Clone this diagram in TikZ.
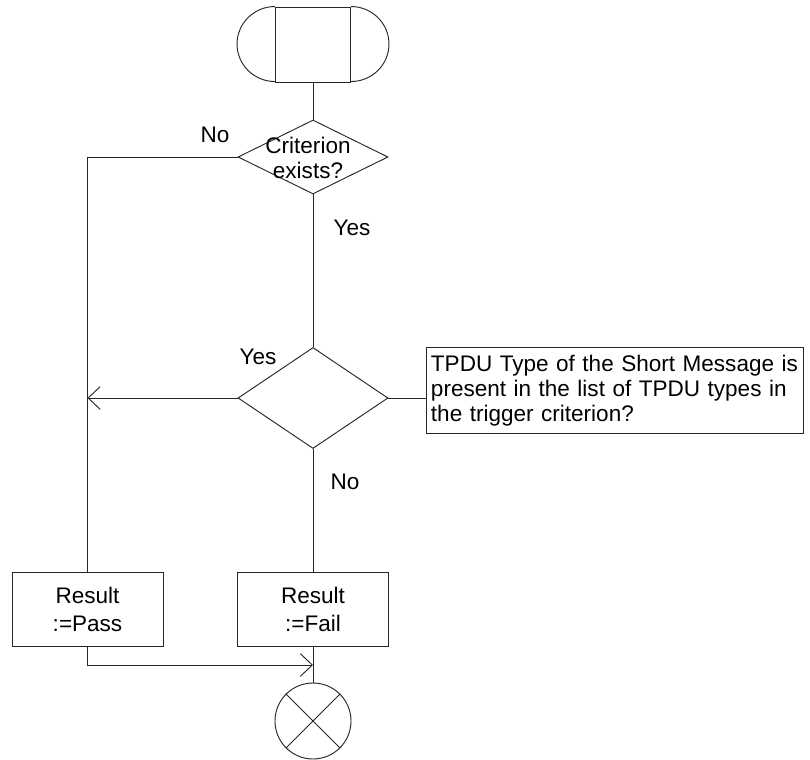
\documentclass[tikz,border=0pt]{standalone}
\usepackage{fontspec}
\setmainfont{Liberation Sans}
\usetikzlibrary{shapes.geometric,arrows.meta}
\begin{document}
\begin{tikzpicture}[x=0.75pt,y=-0.75pt,
  line/.style={draw=black!85,line width=0.7pt},
  tip/.style={-{Straight Barb[length=9pt,width=17pt,line width=0.7pt]}},
  txt/.style={font=\fontsize{16.9}{18.75}\selectfont,inner sep=0pt},
  decision/.style={diamond,line,minimum width=112.5pt,inner sep=0pt},
  taskbox/.style={rectangle,line,minimum width=113.25pt,minimum height=55.5pt,align=center,inner sep=0pt,font=\fontsize{16.9}{21}\selectfont},
]
\useasboundingbox (0,0) rectangle (810,760);
% start terminal
\node[rectangle,line,minimum width=56.25pt,minimum height=56.25pt,inner sep=0pt] (start) at (313,44.5) {};
\draw[line] (start.north west) arc[start angle=90,end angle=270,x radius=28.5pt,y radius=28.125pt];
\draw[line] (start.north east) arc[start angle=90,end angle=-90,x radius=28.5pt,y radius=28.125pt];
% decisions
\node[decision,minimum height=55.5pt] (d1) at (313,157) {};
\node[txt,align=center] (d1t) at (308,158) {Criterion\\exists?};
\node[decision,minimum height=75.75pt] (d2) at (313,398) {};
% comment
\node[rectangle,line,anchor=north west,minimum width=282.75pt,minimum height=64.5pt,text width=276pt,inner sep=3pt,align=left,font=\fontsize{16.9}{18.75}\selectfont] (cmt) at (426,347) {TPDU Type of the Short Message is\\present in the list of TPDU types in\\the trigger criterion?};
% tasks
\node[taskbox] (pass) at (87.5,609) {Result\\:=Pass};
\node[taskbox] (fail) at (313,609) {Result\\:=Fail};
% end
\node[circle,line,minimum size=57pt,inner sep=0pt] (endc) at (313,721) {};
\draw[line] (endc.north west) -- (endc.south east);
\draw[line] (endc.north east) -- (endc.south west);
% labels
\node[txt] (lno1) at (215,135) {No};
\node[txt] (lyes1) at (352,228) {Yes};
\node[txt] (lyes2) at (258,357) {Yes};
\node[txt] (lno2) at (345,482) {No};
% connectors
\coordinate (j) at (313,665);
\draw[line] (start.south) -- (d1.north);
\draw[line] (d1.west) -| (pass.north);
\draw[line] (d1.south) -- (d2.north);
\draw[line,tip] (d2.west) -- (d2.west -| pass.north);
\draw[line] (d2.east) -- (d2.east -| cmt.west);
\draw[line] (d2.south) -- (fail.north);
\draw[line,tip] (pass.south) |- (j);
\draw[line] (fail.south) -- (endc.north);
\end{tikzpicture}
\end{document}
